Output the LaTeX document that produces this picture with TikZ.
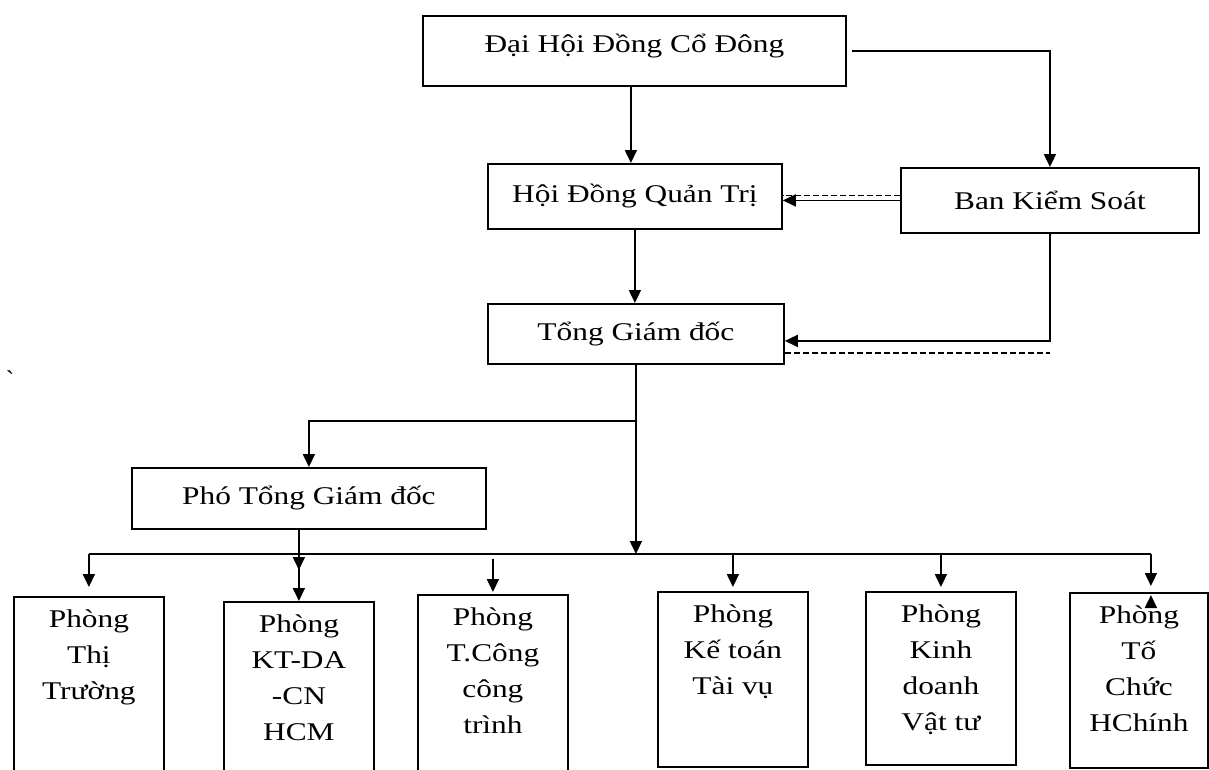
\documentclass[tikz,border=0pt]{standalone}
\usepackage{fontspec}
\setmainfont{Liberation Serif}[FakeStretch=1.23]
\newfontfamily\tickfont{Liberation Serif}[Ligatures=TeXOff]
\usepackage{tikz}
\usetikzlibrary{arrows.meta, positioning}
\newcommand{\vnfont}{\fontsize{25.5}{36}\selectfont}

\begin{document}
\begin{tikzpicture}[x=1pt, y=-1pt,
    block/.style={rectangle, draw, line width=1.8pt, inner sep=0pt, anchor=north west, font=\vnfont},
    phong/.style={block, minimum width=150pt},
    phongtext/.style={anchor=north, yshift=-14pt, inner sep=0pt, align=center, font=\vnfont},
    arrow/.style={-{Triangle[length=13pt, width=12pt]}, line width=1.8pt},
    dashline/.style={dashed, dash pattern=on 6pt off 3pt, line width=1.6pt}
]
\useasboundingbox (0,0) rectangle (1209,769);
\node (dhcd) [block, minimum width=423pt, text height=37pt, text depth=33pt] at (422,15) {Đại Hội Đồng Cổ Đông};
\node (hdqt) [block, minimum width=294pt, minimum height=65pt] at (487,163) {Hội Đồng Quản Trị};
\node (bks) [block, minimum width=298pt, minimum height=65pt] at (900,167) {Ban Kiểm Soát};
\node (tgd) [block, minimum width=296pt, minimum height=60pt] at (487,303) {Tổng Giám đốc};
\node (ptgd) [block, minimum width=354pt, minimum height=61pt] at (131,467) {Phó Tổng Giám đốc};
\node (tick) [font=\vnfont\tickfont] at (10,380) {`};
\node (p1) [phong, minimum height=175pt, label={[phongtext]north:{Phòng\\Thị\\Trường}}] at (13,596) {};
\node (p2) [phong, minimum height=175pt, label={[phongtext]north:{Phòng\\KT-DA\\-CN\\HCM}}] at (223,601) {};
\node (p3) [phong, minimum height=177pt, label={[phongtext]north:{Phòng\\T.Công\\công\\trình}}] at (417,594) {};
\node (p4) [phong, minimum height=175pt, label={[phongtext]north:{Phòng\\Kế toán\\Tài vụ}}] at (657,591) {};
\node (p5) [phong, minimum height=173pt, label={[phongtext]north:{Phòng\\Kinh\\doanh\\Vật tư}}] at (865,591) {};
\node (p6) [phong, minimum width=138pt, minimum height=175pt, label={[phongtext]north:{Phòng\\Tố\\Chức\\HChính}}] at (1069,592) {};
\coordinate (dhcdout) at ([xshift=-3.5pt]dhcd.south);
\coordinate (fork) at (tgd.south |- 0,421);
\coordinate (hub) at (tgd.south |- 0,554);
\draw [arrow] (dhcdout) -- (hdqt.north -| dhcdout);
\draw [arrow] ([xshift=5pt]dhcd.east) -| (bks.north);
\draw [dashline] ([yshift=5pt]bks.west) -- ([yshift=5pt]bks.west -| hdqt.east);
\draw [arrow] (bks.west) -- (bks.west -| hdqt.east);
\draw [arrow] (hdqt.south) -- (tgd.north -| hdqt.south);
\draw [arrow] (bks.south) |- ([yshift=-7pt]tgd.east);
\draw [dashline] ([yshift=-19pt]tgd.east) -- ([yshift=-19pt]tgd.east -| bks.south);
\draw [arrow] (tgd.south) -- (hub);
\draw [arrow] (fork) -| (ptgd.north);
\draw [line width=1.8pt] (p1.north |- hub) -- ([xshift=12pt]p6.north |- hub);
\foreach \p/\t in {p1/587, p2/570, p4/587, p5/587}
    \draw [arrow] (\p.north |- hub) -- (\p.north |- 0,\t);
\draw [arrow] (p3.north |- 0,559) -- (p3.north |- 0,592);
\draw [arrow] ([xshift=12pt]p6.north |- hub) -- ([xshift=12pt]p6.north |- 0,586);
\draw [arrow] (ptgd.south -| p2.north) -- (p2.north);
\draw [arrow] ([xshift=12pt, yshift=-15pt]p6.north) -- ([xshift=12pt, yshift=-3pt]p6.north);
\end{tikzpicture}
\end{document}
